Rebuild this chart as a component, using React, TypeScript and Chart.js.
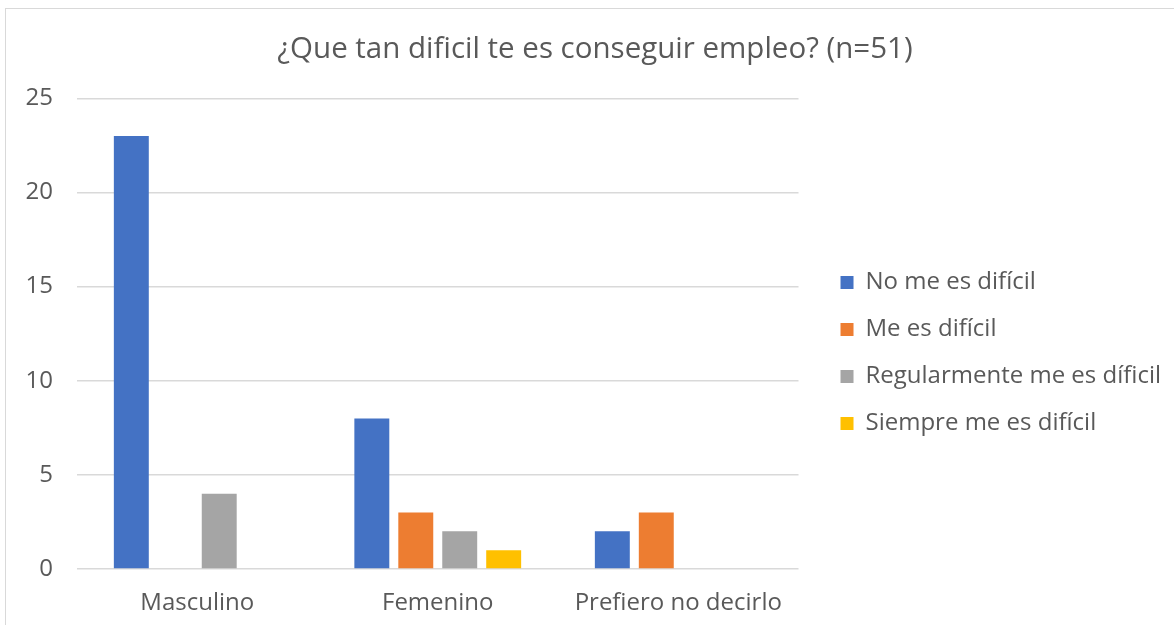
import React, { useEffect, useRef } from "react";
import { Chart, registerables } from "chart.js";

Chart.register(...registerables);

const categories = ["Masculino", "Femenino", "Prefiero no decirlo"];
const seriesNames = [
  "No me es difícil",
  "Me es difícil",
  "Regularmente me es díficil",
  "Siempre me es difícil",
];
const noDificil = [23, 8, 2];
const meDificil = [0, 3, 3];
const regular = [4, 2, 0];
const siempre = [0, 1, 0];
const colors = ["#4472C4", "#ED7D31", "#A5A5A5", "#FFC000"];
const titleText = "¿Que tan dificil te es conseguir empleo? (n=51)";

const FONT = "'Open Sans', 'Noto Sans', sans-serif";

export default function App() {
  const ref = useRef<HTMLCanvasElement>(null);
  useEffect(() => {
    if (!ref.current) return;
    const values = [noDificil, meDificil, regular, siempre];
    const chart = new Chart(ref.current, {
      type: "bar",
      data: {
        labels: categories,
        datasets: seriesNames.map((name, i) => ({
          label: name,
          data: values[i],
          backgroundColor: colors[i],
          borderWidth: 0,
          categoryPercentage: 0.731,
          barPercentage: 0.795,
        })),
      },
      options: {
        animation: false,
        responsive: false,
        maintainAspectRatio: false,
        layout: { padding: { top: 22, right: 4, left: 12, bottom: 0 } },
        plugins: {
          title: {
            display: true,
            text: titleText,
            color: "#595959",
            font: { family: FONT, size: 29.5, weight: "normal" },
            padding: { top: 0, bottom: 31 },
          },
          legend: {
            position: "right",
            maxWidth: 400,
            title: {
              display: true,
              text: " ",
              font: { size: 10 },
              padding: 20,
            },
            labels: {
              color: "#595959",
              font: { family: FONT, size: 24 },
              boxWidth: 13,
              boxHeight: 13,
              padding: 23,
            },
          },
          tooltip: { enabled: false },
        },
        scales: {
          x: {
            grid: { display: false },
            border: { display: false },
            ticks: {
              color: "#595959",
              font: { family: FONT, size: 24 },
              padding: 12,
            },
            afterFit: (s: any) => {
              s.height = 53;
            },
          },
          y: {
            min: 0,
            max: 25,
            ticks: {
              stepSize: 5,
              color: "#595959",
              font: { family: FONT, size: 24 },
              padding: 24,
            },
            grid: { color: "#D9D9D9", lineWidth: 1.5, drawTicks: false },
            border: { display: false },
            afterFit: (s: any) => {
              s.width = 58;
            },
          },
          gap: {
            type: "linear",
            position: "right",
            display: true,
            grid: { display: false },
            border: { display: false },
            ticks: { display: false },
            afterFit: (s: any) => {
              s.width = 19;
            },
          },
        },
      },
    });
    return () => chart.destroy();
  }, []);
  return (
    <div
      style={{
        position: "fixed",
        left: 5,
        top: 8,
        width: 1180,
        height: 625,
        border: "1.5px solid #D9D9D9",
        background: "#fff",
      }}
    >
      <canvas
        ref={ref}
        width={1168}
        height={612}
        style={{ position: "absolute", left: 1, top: 1, width: 1168, height: 612 }}
      />
    </div>
  );
}
